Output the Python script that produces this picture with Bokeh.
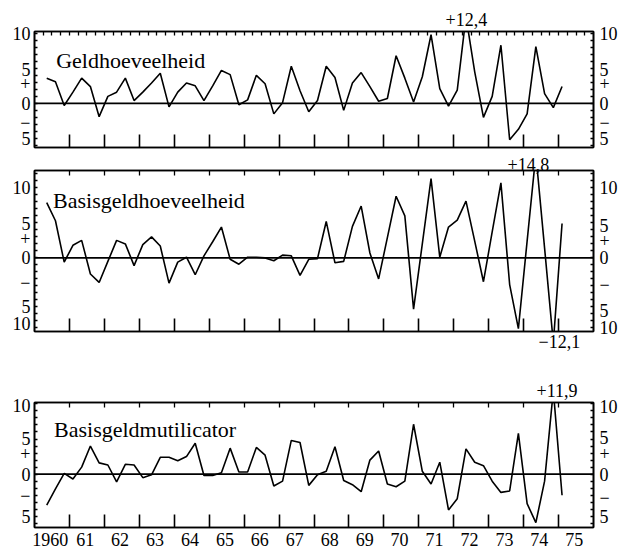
from math import ceil, floor
from bokeh.plotting import figure
from bokeh.models import FixedTicker, LinearAxis, Span, Label, Range1d, Title
from bokeh.layouts import column
from bokeh.embed import file_html
from bokeh.resources import INLINE

FONT = "Liberation Serif"

# ---------------- data ----------------
years = list(range(1960, 1976))
year_labels = ["1960"] + [str(y)[2:] for y in years[1:]]
# quarterly observations 1960-II .. 1975-I
quarters = [(1960 + (i + 1) // 4, (i + 1) % 4 + 1) for i in range(60)]

geldhoeveelheid = [3.6, 3.1, -0.3, 1.6, 3.6, 2.4, -1.9, 1.0, 1.6, 3.6,
                   0.4, 1.6, 2.9, 4.3, -0.5, 1.6, 2.9, 2.5, 0.4, 2.5,
                   4.7, 4.1, -0.2, 0.5, 4.0, 2.8, -1.5, 0.1, 5.3, 1.8,
                   -1.2, 0.4, 5.3, 3.7, -1.0, 2.9, 4.4, 2.4, 0.3, 0.7,
                   6.8, 3.6, 0.2, 3.8, 9.8, 2.1, -0.4, 1.9, 12.4, 4.5,
                   -2.0, 1.0, 8.3, -5.2, -3.7, -1.5, 8.1, 1.4, -0.6, 2.4]

basisgeldhoeveelheid = [7.9, 5.3, -0.6, 1.8, 2.5, -2.3, -3.5, -0.5, 2.5, 2.0,
                        -1.1, 1.9, 3.0, 1.7, -3.6, -0.6, 0.1, -2.4, 0.3, 2.3,
                        4.4, -0.2, -0.9, 0.1, 0.1, 0.0, -0.4, 0.4, 0.3, -2.5,
                        -0.2, -0.1, 5.2, -0.7, -0.5, 4.5, 7.4, 0.7, -3.0, 2.9,
                        8.8, 6.0, -7.3, 2.0, 11.3, 0.1, 4.4, 5.4, 8.1, 2.4,
                        -3.4, 3.7, 10.7, -3.8, -10.1, 2.4, 14.8, 1.4, -12.1, 4.9]

basisgeldmultiplicator = [-4.4, -2.1, 0.1, -0.7, 1.0, 4.0, 1.6, 1.3, -1.1, 1.4,
                          1.3, -0.5, -0.1, 2.4, 2.4, 1.9, 2.5, 4.4, -0.2, -0.2,
                          0.2, 3.7, 0.3, 0.3, 3.8, 2.7, -1.7, -1.0, 4.8, 4.5,
                          -1.6, -0.1, 0.4, 3.9, -0.9, -1.5, -2.5, 2.0, 3.3, -1.4,
                          -1.8, -1.0, 7.1, 0.4, -1.4, 1.7, -5.1, -3.5, 3.6, 1.7,
                          1.2, -1.0, -2.6, -2.4, 5.8, -4.2, -6.9, -1.0, 11.9, -3.0]

x = [y + (q - 0.6) / 4 for (y, q) in quarters]


def y_axis(ticks, labels, ylo, yhi, standoff):
    minor = list(range(int(ceil(ylo)), int(floor(yhi)) + 1))
    return LinearAxis(
        ticker=FixedTicker(ticks=ticks, minor_ticks=minor),
        major_label_overrides=dict(zip(ticks, labels)),
        major_tick_in=0, major_tick_out=0,
        minor_tick_in=3, minor_tick_out=0,
        minor_tick_line_color="black", minor_tick_line_width=1.3,
        axis_line_color="black", axis_line_width=1.6,
        major_label_standoff=standoff,
        major_label_text_font=FONT, major_label_text_font_size="18px",
        major_label_text_color="black")


def note(text, side, offset, standoff):
    return Title(text=text, align="left", offset=offset, standoff=standoff,
                 text_font=FONT, text_font_size="18px", text_font_style="normal",
                 text_color="black"), side


def panel(vals, ylo, yhi, frame_h, btop, bbot, lt, ll, rt, rl,
          title, tx, ty, notes, top_minor, top_len, xlabels=False):
    p = figure(frame_width=559, frame_height=frame_h,
               x_range=Range1d(1960, 1976), y_range=Range1d(ylo, yhi),
               x_axis_location=None, y_axis_location=None,
               output_backend="svg", toolbar_location=None,
               min_border_left=34, min_border_right=27,
               min_border_top=btop, min_border_bottom=bbot,
               outline_line_color="black", outline_line_width=1.6,
               background_fill_color="white", border_fill_color="white")
    p.xgrid.visible = False
    p.ygrid.visible = False

    p.add_layout(y_axis(lt, ll, ylo, yhi, 4), "left")
    p.add_layout(y_axis(rt, rl, ylo, yhi, 6), "right")

    top = LinearAxis(ticker=FixedTicker(ticks=[], minor_ticks=top_minor),
                     major_tick_in=0, major_tick_out=0,
                     minor_tick_in=top_len, minor_tick_out=0,
                     minor_tick_line_color="black", minor_tick_line_width=1.3,
                     axis_line_width=1.6, major_label_standoff=0,
                     major_label_text_font_size="1px")
    p.add_layout(top, "above")

    lab_ticks = [y + 0.45 for y in years] if xlabels else []
    bottom = LinearAxis(ticker=FixedTicker(ticks=lab_ticks, minor_ticks=years[1:]),
                        major_label_overrides=dict(zip(lab_ticks, year_labels)),
                        major_tick_in=0, major_tick_out=0,
                        minor_tick_in=13, minor_tick_out=0,
                        minor_tick_line_color="black", minor_tick_line_width=1.6,
                        axis_line_width=1.6,
                        major_label_standoff=5 if xlabels else 0,
                        major_label_text_font=FONT,
                        major_label_text_font_size="18px" if xlabels else "1px",
                        major_label_text_color="black")
    p.add_layout(bottom, "below")

    p.add_layout(Span(location=0, dimension="width", line_color="black", line_width=1.6))
    p.line(x, vals, line_color="black", line_width=1.6)

    p.add_layout(Label(x=tx, y=ty, text=title, text_font=FONT, text_font_size="22px",
                       text_align="left", text_baseline="alphabetic", text_color="black"))
    for (t, side) in notes:
        p.add_layout(t, side)
    return p


quarter_ticks = [y + k / 4 for y in years for k in range(1, 4)] + years[1:]

p1 = panel(geldhoeveelheid, -6.3, 10.26, 116, 31, 2,
           [10, 4.9, 2.9, 0, -2.7, -5.0], ["10", "5", "+", "0", "−", "5"],
           [10, 4.9, 2.9, 0, -2.7, -5.0], ["10", "5", "+", "0", "−", "5"],
           "Geldhoeveelheid", 1960.62, 6.1,
           [note("+12,4", "above", 411, 12)], quarter_ticks, 4)

p2 = panel(basisgeldhoeveelheid, -10.5, 12.47, 161, 21, 30,
           [10, 4.9, 2.8, 0, -3.5, -6.9, -9.4], ["10", "5", "+", "0", "−", "5", "10"],
           [10, 4.6, 2.5, 0, -3.8, -7.5, -9.9], ["10", "5", "+", "0", "−", "5", "10"],
           "Basisgeldhoeveelheid", 1960.53, 8.2,
           [note("+14,8", "above", 473, 0), note("−12,1", "below", 504, 2)],
           years[1:], 5)

p3 = panel(basisgeldmultiplicator, -7.6, 10.2, 125, 41, 0,
           [9.8, 5.1, 3.0, 0, -3.1, -6.0], ["10", "5", "+", "0", "−", "5"],
           [9.6, 5.2, 2.9, 0, -3.3, -6.1], ["10", "5", "+", "0", "−", "5"],
           "Basisgeldmutilicator", 1960.56, 6.4,
           [note("+11,9", "above", 502, 12)], years[1:], 5, xlabels=True)

layout = column(p1, p2, p3, spacing=0)
open("out.html", "w").write(file_html(layout, INLINE))
